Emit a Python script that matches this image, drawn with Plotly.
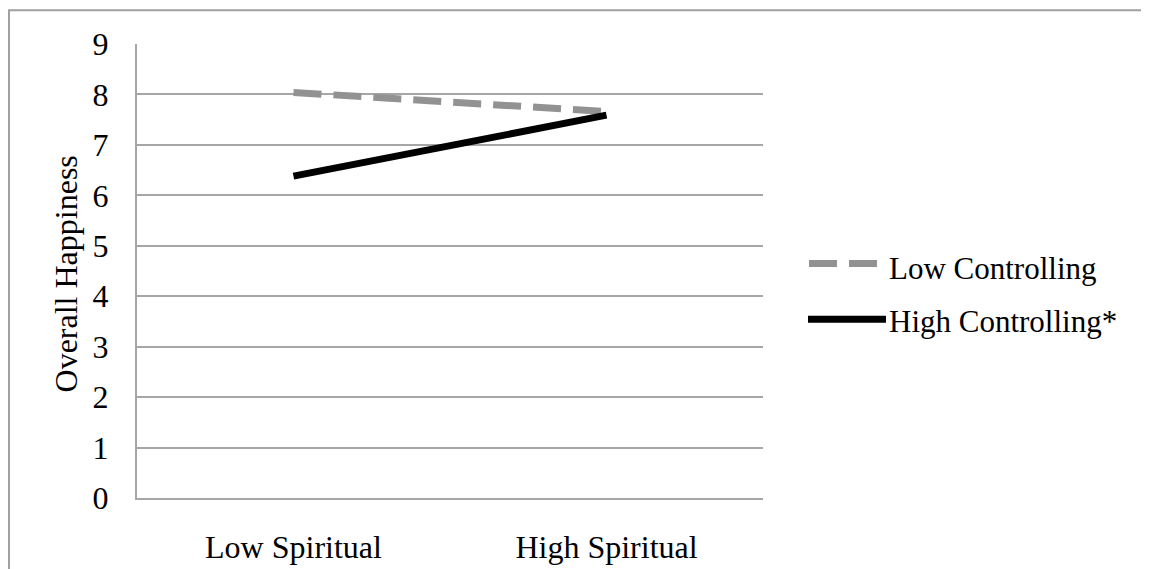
import plotly.graph_objects as go

categories = ["Low Spiritual", "High Spiritual"]
low_controlling = [8.04, 7.66]
high_controlling = [6.38, 7.59]
series_names = ["Low Controlling", "High Controlling*"]
y_ticks = [0, 1, 2, 3, 4, 5, 6, 7, 8, 9]

W, H = 1149, 569
# page body has an 8px margin; coordinates below are in figure pixels
L, R, T, B = 129, 394, 36, 76
pw, ph = W - L - R, H - T - B

def px(x):
    return (x - L) / pw

def py(y):
    return (H - B - y) / ph

FONT = "Liberation Serif, Times New Roman, serif"
GRAY = "#929292"
GRID = "#A6A6A6"
DASH = "28px,12px"

fig = go.Figure()
fig.add_trace(go.Scatter(x=categories, y=low_controlling, mode="lines",
                         name=series_names[0], showlegend=False,
                         line=dict(color=GRAY, width=7, dash=DASH)))
fig.add_trace(go.Scatter(x=categories, y=high_controlling, mode="lines",
                         name=series_names[1], showlegend=False,
                         line=dict(color="black", width=7)))

shapes = [
    # outer chart border
    dict(type="rect", xref="paper", yref="paper",
         x0=px(1), x1=px(1200), y0=py(640), y1=py(2),
         line=dict(color="#A0A0A0", width=2), fillcolor="rgba(0,0,0,0)", layer="below"),
    # legend symbols
    dict(type="line", xref="paper", yref="paper",
         x0=px(801), x1=px(870), y0=py(257), y1=py(257),
         line=dict(color=GRAY, width=7, dash=DASH)),
    dict(type="line", xref="paper", yref="paper",
         x0=px(800), x1=px(878), y0=py(313), y1=py(313),
         line=dict(color="black", width=7)),
]

annotations = [
    dict(text="Overall Happiness", textangle=-90, xref="paper", yref="paper",
         x=px(58), y=py(268), xanchor="center", yanchor="middle", showarrow=False,
         font=dict(family=FONT, size=32, color="black")),
    dict(text=series_names[0], xref="paper", yref="paper",
         x=px(879), y=py(262), xanchor="left", yanchor="middle", showarrow=False,
         font=dict(family=FONT, size=31, color="black")),
    dict(text=series_names[1], xref="paper", yref="paper",
         x=px(879), y=py(315), xanchor="left", yanchor="middle", showarrow=False,
         font=dict(family=FONT, size=31, color="black")),
]

fig.update_layout(
    width=W, height=H,
    margin=dict(l=L, r=R, t=T, b=B, pad=0),
    paper_bgcolor="white", plot_bgcolor="white",
    showlegend=False,
    font=dict(family=FONT, size=32, color="black"),
    shapes=shapes, annotations=annotations,
    xaxis=dict(type="category", range=[-0.5, 1.5], showgrid=False,
               showline=True, linecolor=GRID, linewidth=2, ticks="",
               ticklabelstandoff=20, tickfont=dict(family=FONT, size=32, color="black"),
               fixedrange=True, zeroline=False),
    yaxis=dict(range=[0, 9], tickvals=y_ticks, showgrid=True, gridcolor=GRID, gridwidth=1.5,
               showline=True, linecolor=GRID, linewidth=2, ticks="",
               ticklabelstandoff=20, tickfont=dict(family=FONT, size=32, color="black"),
               zeroline=False, fixedrange=True),
)

fig.write_html("out.html")
